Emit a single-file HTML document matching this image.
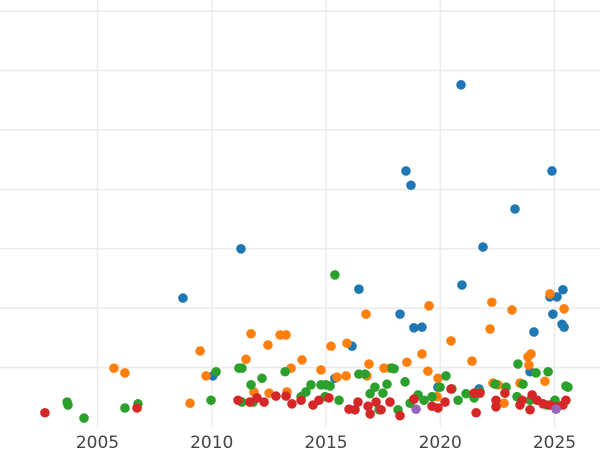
<!DOCTYPE html>
<html><head><meta charset="utf-8"><style>
html,body{margin:0;padding:0;background:#fff;}
svg{display:block;}
</style></head><body>
<svg id="chart" width="600" height="450" viewBox="0 0 600 450">
<g id="grid"></g>
<g id="xticks"></g>
<g id="marks"></g>
</svg>
<script>
const xTicks = [2005, 2010, 2015, 2020, 2025];
const yGrid = [1, 2, 3, 4, 5, 6, 7];
const blueX = [2008.74,2011.28,2010.05,2020.91,2018.50,2018.72,2023.27,2021.87,2020.95,2016.44,2016.14,2018.24,2019.20,2018.85,2024.10,2024.89,2025.37,2025.11,2024.80,2024.93,2025.33,2025.42,2015.39,2019.90,2021.70,2023.93];
const blueY = [2.17,3.00,0.86,5.76,4.31,4.07,3.67,3.03,2.39,2.32,1.36,1.90,1.68,1.67,1.60,4.31,2.31,2.19,2.19,1.90,1.73,1.68,0.82,0.67,0.64,0.93];
const orangeX = [2005.72,2006.20,2009.05,2009.49,2009.75,2011.50,2011.72,2012.46,2012.99,2013.25,2013.47,2013.95,2013.29,2015.22,2014.78,2015.48,2015.92,2015.88,2016.75,2016.88,2016.79,2017.54,2017.80,2018.54,2019.20,2019.51,2019.46,2019.90,2019.86,2020.47,2021.39,2022.18,2022.26,2023.14,2023.49,2023.84,2024.80,2025.42,2023.97,2023.88,2024.58,2022.31,2022.53,2022.79,2012.51,2011.85];
const orangeY = [0.99,0.91,0.40,1.28,0.86,1.14,1.57,1.38,1.55,1.55,0.99,1.13,0.59,1.36,0.96,0.84,1.41,0.86,1.90,1.06,0.86,0.99,0.99,1.09,1.23,2.04,0.94,0.82,0.51,1.45,1.11,1.65,2.10,1.97,0.74,1.18,2.24,1.99,1.23,1.04,0.77,0.74,0.71,0.40,0.57,0.59];
const greenX = [2003.67,2003.71,2004.41,2006.20,2006.77,2009.97,2010.19,2011.19,2011.32,2011.72,2012.20,2013.21,2011.81,2011.32,2015.39,2015.00,2015.18,2013.91,2014.12,2014.34,2014.78,2014.96,2015.57,2016.44,2016.71,2016.93,2017.14,2017.49,2017.67,2017.89,2017.98,2018.46,2018.15,2017.32,2018.68,2019.03,2019.29,2019.64,2020.25,2019.99,2020.51,2020.78,2021.13,2021.48,2021.74,2022.40,2022.88,2023.40,2023.62,2024.19,2024.72,2025.50,2025.59,2025.02,2024.67,2023.93,2023.36];
const greenY = [0.42,0.37,0.15,0.32,0.39,0.45,0.93,0.99,0.99,0.71,0.82,0.93,0.42,0.42,2.56,0.71,0.69,0.51,0.59,0.71,0.71,0.51,0.45,0.89,0.89,0.56,0.67,0.57,0.72,0.99,0.98,0.76,0.29,0.29,0.40,0.54,0.45,0.51,0.86,0.67,0.64,0.45,0.56,0.49,0.59,0.72,0.67,1.06,0.72,0.91,0.93,0.69,0.67,0.45,0.37,0.45,0.51];
const redX = [2002.70,2006.73,2011.15,2011.67,2011.98,2012.29,2012.81,2013.25,2013.51,2013.91,2014.43,2014.69,2015.13,2016.01,2016.27,2016.40,2016.93,2016.84,2017.19,2017.41,2017.80,2018.24,2018.85,2019.64,2019.90,2020.21,2020.47,2021.57,2021.48,2021.74,2022.44,2022.44,2022.83,2023.58,2023.93,2024.02,2024.24,2024.50,2024.80,2025.11,2025.37,2025.50,2023.49];
const redY = [0.24,0.32,0.45,0.42,0.49,0.42,0.52,0.52,0.39,0.45,0.37,0.45,0.49,0.30,0.29,0.42,0.22,0.35,0.42,0.29,0.42,0.19,0.47,0.35,0.32,0.42,0.64,0.24,0.57,0.57,0.34,0.45,0.57,0.45,0.29,0.54,0.45,0.39,0.37,0.34,0.37,0.45,0.37];
const purpleX = [2018.94, 2025.07];
const purpleY = [0.30, 0.30];

const NS = 'http://www.w3.org/2000/svg';
function xs(yr){ return 97.5 + (yr - 2005) * 22.85; }
function ys(v){ return 427 - v * 59.4; }

const grid = document.getElementById('grid');
yGrid.forEach(v => {
  const l = document.createElementNS(NS, 'line');
  
  
  l.setAttribute('x1', 0); l.setAttribute('x2', 600);
  l.setAttribute('y1', ys(v)); l.setAttribute('y2', ys(v));
  l.setAttribute('stroke', '#ebebeb'); l.setAttribute('stroke-width', '1.5');
  grid.appendChild(l);
});
const xt = document.getElementById('xticks');
xTicks.forEach(t => {
  const l = document.createElementNS(NS, 'line');
  
  
  l.setAttribute('x1', xs(t)); l.setAttribute('x2', xs(t));
  l.setAttribute('y1', 0); l.setAttribute('y2', 427);
  l.setAttribute('stroke', '#ebebeb'); l.setAttribute('stroke-width', '1.5');
  grid.appendChild(l);
  const tx = document.createElementNS(NS, 'text');
  
  
  tx.setAttribute('x', xs(t)); tx.setAttribute('y', 448);
  tx.setAttribute('text-anchor', 'middle');
  tx.setAttribute('font-family', 'DejaVu Sans, Liberation Sans, sans-serif');
  tx.setAttribute('font-size', '17');
  tx.setAttribute('fill', '#444');
  tx.textContent = t;
  xt.appendChild(tx);
});
const marks = document.getElementById('marks');
function drawSeries(X, Y, color, name){
  X.forEach((x, i) => {
    const c = document.createElementNS(NS, 'circle');
    
    
    c.setAttribute('cx', xs(x)); c.setAttribute('cy', ys(Y[i]));
    c.setAttribute('r', 4.8); c.setAttribute('fill', color);
    marks.appendChild(c);
  });
}
drawSeries(blueX, blueY, '#1f77b4', 'point-blue');
drawSeries(orangeX, orangeY, '#ff7f0e', 'point-orange');
drawSeries(greenX, greenY, '#2ca02c', 'point-green');
drawSeries(redX, redY, '#d62728', 'point-red');
drawSeries(purpleX, purpleY, '#9467bd', 'point-purple');
</script>
</body></html>
